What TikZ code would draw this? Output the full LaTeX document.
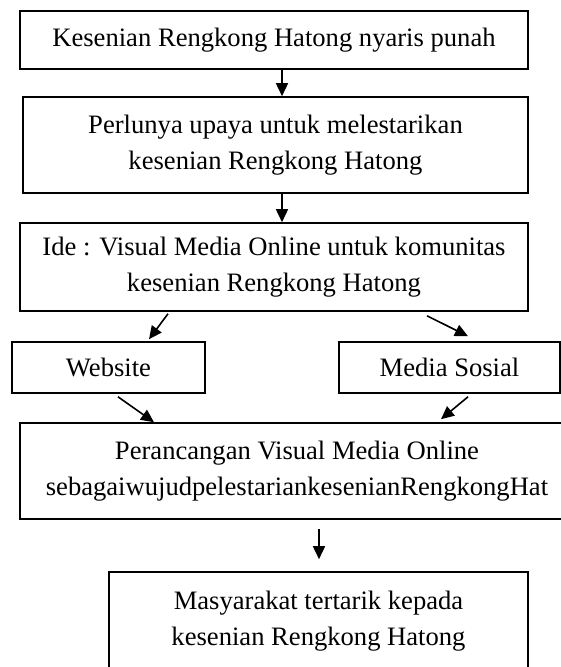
\documentclass[tikz,border=0pt]{standalone}
\usepackage{fontspec}
\setmainfont{Liberation Serif}
\usepackage{tikz}
\usetikzlibrary{arrows.meta}

\tikzset{
  kotak/.style={draw, line width=1.6pt, align=center, inner sep=0pt,
    font=\fontsize{26.6}{36}\selectfont},
  panah/.style={-{Triangle[length=13pt,width=12pt]}, line width=1.6pt},
}

\begin{document}
\begin{tikzpicture}[x=1pt,y=-1pt]
        \useasboundingbox (0,0) rectangle (561,667);

        \node[kotak, minimum width=508pt, minimum height=58pt] (masalah) at (274,40) {Kesenian Rengkong Hatong nyaris punah};
        \node[kotak, minimum width=505pt, minimum height=96pt] (upaya) at (275.5,145) {Perlunya upaya untuk melestarikan\\kesenian Rengkong Hatong};
        \node[kotak, minimum width=508pt, minimum height=88pt] (ide) at (274,267) {Ide : Visual Media Online untuk komunitas\\kesenian Rengkong Hatong};

        \node[kotak, minimum width=193pt, minimum height=51pt] (web) at (108.5,367.5) {Website};
        \node[kotak, minimum width=221pt, minimum height=51pt] (medsos) at (449.5,367.5) {Media Sosial};

        \node[kotak, minimum width=554pt, minimum height=96pt] (rancang) at (297,471) {Perancangan Visual Media Online\\sebagaiwujudpelestariankesenianRengkongHat};
        \node[kotak, minimum width=419pt, minimum height=98pt] (hasil) at (318.5,621) {Masyarakat tertarik kepada\\kesenian Rengkong Hatong};

        % panah antar kotak
        \draw[panah] ([xshift=8pt]masalah.south) -- ([xshift=6.5pt]upaya.north);
        \draw[panah] ([xshift=6.5pt]upaya.south) -- ([xshift=8pt]ide.north);
        \draw[panah] ([shift={(-106,2)}]ide.south) -- ([shift={(40.5,-2)}]web.north);
        \draw[panah] ([shift={(153,4)}]ide.south) -- ([shift={(18.5,-5)}]medsos.north);
        \draw[panah] ([shift={(9.5,3)}]web.south) -- ([shift={(-143,0)}]rancang.north);
        \draw[panah] ([shift={(18.5,3)}]medsos.south) -- ([shift={(144,-3)}]rancang.north);
        \draw[panah] ([shift={(22,9)}]rancang.south) -- ([shift={(0.5,-12)}]hasil.north);
\end{tikzpicture}
\end{document}
